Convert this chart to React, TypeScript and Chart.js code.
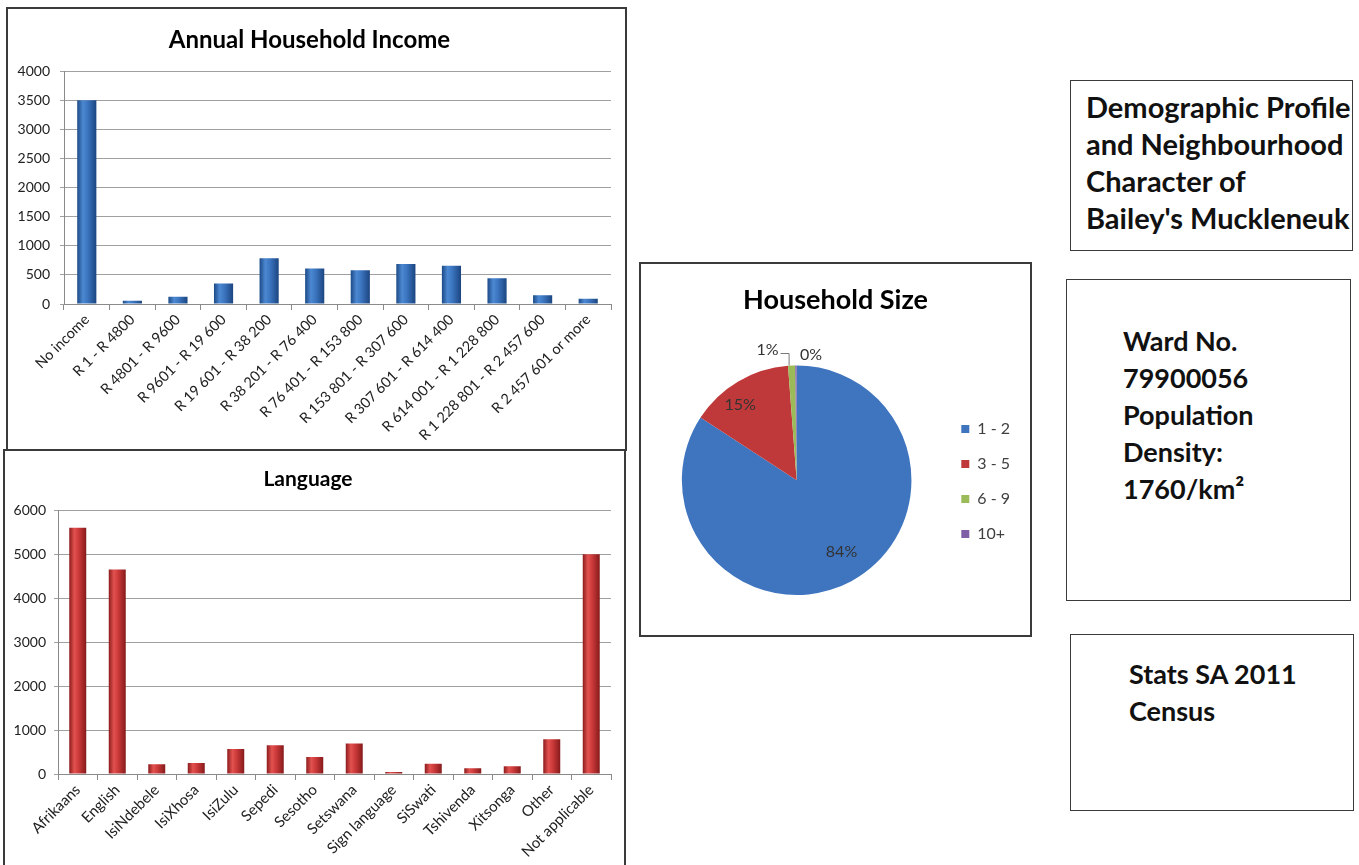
import React, { useEffect, useRef } from 'react';
import { Chart, registerables } from 'chart.js';

Chart.register(...registerables);

const FONT = "Lato, 'Open Sans', sans-serif";

// ---------- Data ----------
const incomeCategories = [
  'No income',
  'R 1 - R 4800',
  'R 4801 - R 9600',
  'R 9601 - R 19 600',
  'R 19 601 - R 38 200',
  'R 38 201 - R 76 400',
  'R 76 401 - R 153 800',
  'R 153 801 - R 307 600',
  'R 307 601 - R 614 400',
  'R 614 001 - R 1 228 800',
  'R 1 228 801 - R 2 457 600',
  'R 2 457 601 or more',
];
const incomeValues = [3510, 55, 125, 355, 790, 610, 580, 690, 660, 445, 150, 90];
const incomeYTicks = [0, 500, 1000, 1500, 2000, 2500, 3000, 3500, 4000];

const languageCategories = [
  'Afrikaans',
  'English',
  'IsiNdebele',
  'IsiXhosa',
  'IsiZulu',
  'Sepedi',
  'Sesotho',
  'Setswana',
  'Sign language',
  'SiSwati',
  'Tshivenda',
  'Xitsonga',
  'Other',
  'Not applicable',
];
const languageValues = [5600, 4650, 220, 250, 570, 655, 385, 695, 45, 235, 130, 175, 790, 5000];
const languageYTicks = [0, 1000, 2000, 3000, 4000, 5000, 6000];

const householdSizeLabels = ['1 - 2', '3 - 5', '6 - 9', '10+'];
const householdSizeShares = [84.2, 14.6, 1.0, 0.2];
const householdSizeColors = ['#3F75BF', '#C0393A', '#9BBB59', '#7E5FA6'];

const infoTitleLines = ['Demographic Profile', 'and Neighbourhood', 'Character of', "Bailey's Muckleneuk"];
const infoWardLines = ['Ward No.', '79900056', 'Population', 'Density:', '1760/km²'];
const infoSourceLines = ['Stats SA 2011', 'Census'];

// ---------- helpers ----------
const blueStops: [number, string][] = [
  [0, '#1C4A86'],
  [0.3, '#4C88D2'],
  [0.55, '#3B74BF'],
  [1, '#1B4580'],
];
const redStops: [number, string][] = [
  [0, '#8C1B1D'],
  [0.3, '#E2524F'],
  [0.55, '#CC3A3A'],
  [1, '#861A1B'],
];

function makeBarFill(stops: [number, string][], share: number) {
  return (ctx: any) => {
    const chart = ctx.chart;
    const xs = chart.scales && chart.scales.x;
    if (ctx.type !== 'data' || !xs || !xs.width) return stops[2][1];
    const n = chart.data.labels.length;
    const cx = xs.getPixelForValue(ctx.dataIndex);
    if (!isFinite(cx)) return stops[2][1];
    const half = ((xs.width / n) * share) / 2;
    const g = chart.ctx.createLinearGradient(cx - half, 0, cx + half, 0);
    stops.forEach(([o, c]) => g.addColorStop(o, c));
    return g;
  };
}

type BarPanelProps = {
  left: number;
  top: number;
  width: number;
  height: number;
  title: string;
  titleSize: number;
  titlePadTop: number;
  titlePadBottom: number;
  labels: string[];
  values: number[];
  yTicks: number[];
  stops: [number, string][];
  share: number;
  yWidth: number;
  xHeight: number;
  padRight: number;
  xFont: number;
  yPad: number;
};

function BarPanel(p: BarPanelProps) {
  const ref = useRef<HTMLCanvasElement>(null);
  const cw = p.width - 4;
  const ch = p.height - 4;
  useEffect(() => {
    if (!ref.current) return;
    const yMax = p.yTicks[p.yTicks.length - 1];
    const step = p.yTicks[1] - p.yTicks[0];
    const chart = new Chart(ref.current, {
      type: 'bar',
      data: {
        labels: p.labels,
        datasets: [
          {
            data: p.values,
            backgroundColor: makeBarFill(p.stops, p.share) as any,
            borderWidth: 0,
            categoryPercentage: 1,
            barPercentage: p.share,
          },
        ],
      },
      options: {
        animation: false,
        responsive: false,
        devicePixelRatio: 1,
        layout: { padding: { left: 0, right: p.padRight, top: 0, bottom: 0 } },
        plugins: {
          legend: { display: false },
          tooltip: { enabled: false },
          title: {
            display: true,
            text: p.title,
            color: '#000',
            font: { family: FONT, size: p.titleSize, weight: 'bold' },
            padding: { top: p.titlePadTop, bottom: p.titlePadBottom },
          },
        },
        scales: {
          x: {
            grid: {
              display: true,
              drawOnChartArea: false,
              drawTicks: true,
              tickLength: 6,
              color: '#8a8a8a',
              offset: true,
            },
            border: { color: '#8a8a8a' },
            ticks: {
              autoSkip: false,
              minRotation: 45,
              maxRotation: 45,
              padding: 1,
              color: '#222',
              font: { family: FONT, size: p.xFont },
            },
            afterFit: (s: any) => {
              s.height = p.xHeight;
            },
          },
          y: {
            min: 0,
            max: yMax,
            ticks: {
              stepSize: step,
              padding: p.yPad,
              color: '#222',
              font: { family: FONT, size: 14 },
              callback: (v: any) => String(v),
            },
            grid: { color: '#a0a0a0', tickLength: 4, drawTicks: true },
            border: { color: '#8a8a8a' },
            afterFit: (s: any) => {
              s.width = p.yWidth;
            },
          },
        },
      },
    });
    return () => chart.destroy();
  }, []);
  return (
    <div
      style={{
        position: 'absolute',
        left: p.left,
        top: p.top,
        width: p.width,
        height: p.height,
        border: '2px solid #3a3a3a',
        boxSizing: 'border-box',
        background: '#fff',
      }}
    >
      <canvas ref={ref} width={cw} height={ch} style={{ display: 'block', width: cw, height: ch }} />
    </div>
  );
}

const pieLabelPlugin = {
  id: 'pieLabels',
  afterDatasetsDraw(chart: any) {
    const meta = chart.getDatasetMeta(0);
    const data: number[] = chart.data.datasets[0].data;
    const total = data.reduce((a, b) => a + b, 0);
    const ctx = chart.ctx;
    ctx.save();
    ctx.font = `16px ${FONT}`;
    ctx.fillStyle = '#333';
    ctx.textBaseline = 'middle';
    let small = 0;
    meta.data.forEach((arc: any, i: number) => {
      const { x, y, startAngle, endAngle, outerRadius } = arc.getProps(
        ['x', 'y', 'startAngle', 'endAngle', 'outerRadius'],
        true
      );
      const pct = Math.round((data[i] / total) * 100);
      const mid = (startAngle + endAngle) / 2;
      if (pct >= 5) {
        const big = pct > 50;
        const r = outerRadius * (big ? 0.74 : 0.82);
        const a = big ? mid - 0.06 : mid - 0.11;
        ctx.textAlign = 'center';
        ctx.fillText(pct + '%', x + Math.cos(a) * r, y + Math.sin(a) * r);
      } else {
        const ex = x + Math.cos(mid) * outerRadius;
        const ey = y + Math.sin(mid) * outerRadius;
        if (small === 0) {
          ctx.strokeStyle = '#777';
          ctx.lineWidth = 1;
          ctx.beginPath();
          ctx.moveTo(ex - 2.5, ey);
          ctx.lineTo(ex - 2.5, ey - 12);
          ctx.lineTo(ex - 11, ey - 12);
          ctx.stroke();
          ctx.textAlign = 'right';
          ctx.fillText(pct + '%', ex - 13, ey - 16);
        } else {
          ctx.textAlign = 'left';
          ctx.fillText(pct + '%', ex + 4, ey - 11);
        }
        small++;
      }
    });
    ctx.restore();
  },
};

function PiePanel() {
  const ref = useRef<HTMLCanvasElement>(null);
  const W = 393;
  const H = 375;
  useEffect(() => {
    if (!ref.current) return;
    const chart = new Chart(ref.current, {
      type: 'pie',
      data: {
        labels: householdSizeLabels,
        datasets: [
          {
            data: householdSizeShares,
            backgroundColor: householdSizeColors,
            borderWidth: 0,
          },
        ],
      },
      options: {
        animation: false,
        responsive: false,
        devicePixelRatio: 1,
        layout: { padding: { left: 10, right: 10, top: 0, bottom: 40 } },
        plugins: {
          tooltip: { enabled: false },
          title: {
            display: true,
            text: 'Household Size',
            color: '#000',
            font: { family: FONT, size: 27, weight: 'bold' },
            padding: { top: 20, bottom: 49 },
          },
          legend: {
            position: 'right',
            align: 'start',
            title: { display: true, text: ' ', font: { size: 10 }, padding: { top: 126, bottom: 0 } },
            labels: {
              boxWidth: 8,
              boxHeight: 8,
              padding: 19,
              color: '#404040',
              font: { family: FONT, size: 16 },
            },
          },
        },
      },
      plugins: [pieLabelPlugin],
    });
    return () => chart.destroy();
  }, []);
  return (
    <div
      style={{
        position: 'absolute',
        left: 639,
        top: 262,
        width: W,
        height: H,
        border: '2px solid #3a3a3a',
        boxSizing: 'border-box',
        background: '#fff',
      }}
    >
      <canvas ref={ref} width={W - 4} height={H - 4} style={{ display: 'block', width: W - 4, height: H - 4 }} />
    </div>
  );
}

function TextBox(props: {
  left: number;
  top: number;
  width: number;
  height: number;
  padLeft: number;
  padTop: number;
  fontSize: number;
  lines: string[];
}) {
  return (
    <div
      style={{
        position: 'absolute',
        left: props.left,
        top: props.top,
        width: props.width,
        height: props.height,
        border: '1.5px solid #3a3a3a',
        boxSizing: 'border-box',
        paddingLeft: props.padLeft,
        paddingTop: props.padTop,
        fontFamily: FONT,
        fontWeight: 700,
        fontSize: props.fontSize,
        lineHeight: '37px',
        color: '#111',
        whiteSpace: 'nowrap',
        background: '#fff',
      }}
    >
      {props.lines.map((l, i) => (
        <div key={i}>{l}</div>
      ))}
    </div>
  );
}

export default function App() {
  return (
    <div
      style={{
        position: 'absolute',
        left: 0,
        top: 0,
        width: 1359,
        height: 865,
        overflow: 'hidden',
        background: '#fff',
      }}
    >
      <BarPanel
        left={6}
        top={7}
        width={621}
        height={444}
        title="Annual Household Income"
        titleSize={24}
        titlePadTop={17}
        titlePadBottom={17}
        labels={incomeCategories}
        values={incomeValues}
        yTicks={incomeYTicks}
        stops={blueStops}
        share={0.42}
        yWidth={56}
        xHeight={145}
        padRight={14}
        xFont={14.5}
        yPad={10}
      />
      <BarPanel
        left={3}
        top={449}
        width={623}
        height={430}
        title="Language"
        titleSize={21}
        titlePadTop={16}
        titlePadBottom={18}
        labels={languageCategories}
        values={languageValues}
        yTicks={languageYTicks}
        stops={redStops}
        share={0.43}
        yWidth={53}
        xHeight={103}
        padRight={13}
        xFont={15}
        yPad={8}
      />
      <PiePanel />
      <TextBox left={1070} top={80} width={283} height={171} padLeft={15} padTop={7} fontSize={29} lines={infoTitleLines} />
      <TextBox left={1066} top={279} width={285} height={322} padLeft={56} padTop={42} fontSize={27} lines={infoWardLines} />
      <TextBox left={1070} top={634} width={284} height={177} padLeft={58} padTop={20} fontSize={27} lines={infoSourceLines} />
    </div>
  );
}
